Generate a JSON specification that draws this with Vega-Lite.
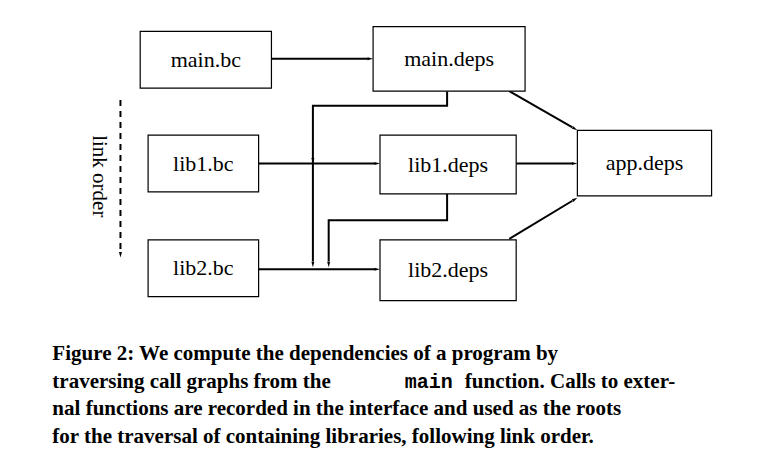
{
  "$schema": "https://vega.github.io/schema/vega-lite/v6.json",
  "autosize": {"type": "fit", "contains": "padding"},
  "width": 760,
  "height": 470,
  "background": "white",
  "config": {"view": {"stroke": null}},
  "encoding": {
    "x": {"field": "x", "type": "quantitative", "scale": {"domain": [0, 760], "nice": false, "zero": false}, "axis": null},
    "y": {"field": "y", "type": "quantitative", "scale": {"domain": [0, 470], "nice": false, "zero": false, "reverse": true}, "axis": null}
  },
  "layer": [
    {
      "data": {"values": [
        {"p": 1, "o": 1, "x": 270, "y": 55}, {"p": 1, "o": 2, "x": 368, "y": 55},
        {"p": 2, "o": 1, "x": 511, "y": 88}, {"p": 2, "o": 2, "x": 575, "y": 125},
        {"p": 3, "o": 1, "x": 518, "y": 162}, {"p": 3, "o": 2, "x": 575, "y": 162},
        {"p": 4, "o": 1, "x": 511, "y": 239}, {"p": 4, "o": 2, "x": 575, "y": 200},
        {"p": 5, "o": 1, "x": 257, "y": 162}, {"p": 5, "o": 2, "x": 375, "y": 162},
        {"p": 6, "o": 1, "x": 257, "y": 270}, {"p": 6, "o": 2, "x": 375, "y": 270},
        {"p": 7, "o": 1, "x": 448, "y": 88}, {"p": 7, "o": 2, "x": 448, "y": 103},
        {"p": 7, "o": 3, "x": 312, "y": 103}, {"p": 7, "o": 4, "x": 312, "y": 262},
        {"p": 8, "o": 1, "x": 448, "y": 193}, {"p": 8, "o": 2, "x": 448, "y": 220},
        {"p": 8, "o": 3, "x": 328, "y": 220}, {"p": 8, "o": 4, "x": 328, "y": 262}
      ]},
      "mark": {"type": "line", "color": "black", "strokeWidth": 2},
      "encoding": {"detail": {"field": "p"}, "order": {"field": "o"}}
    },
    {
      "data": {"values": [{"p": 9, "o": 1, "x": 117, "y": 97}, {"p": 9, "o": 2, "x": 117, "y": 252}]},
      "mark": {"type": "line", "color": "black", "strokeWidth": 2, "strokeDash": [6, 5]},
      "encoding": {"order": {"field": "o"}}
    },
    {
      "data": {"values": [
        {"x": 137, "x2": 270, "y": 27, "y2": 85, "t": "main.bc"},
        {"x": 373, "x2": 527, "y": 22, "y2": 88, "t": "main.deps"},
        {"x": 145, "x2": 257, "y": 133, "y2": 191, "t": "lib1.bc"},
        {"x": 380, "x2": 518, "y": 133, "y2": 193, "t": "lib1.deps"},
        {"x": 580, "x2": 716, "y": 128, "y2": 195, "t": "app.deps"},
        {"x": 145, "x2": 257, "y": 240, "y2": 298, "t": "lib2.bc"},
        {"x": 380, "x2": 518, "y": 240, "y2": 302, "t": "lib2.deps"}
      ]},
      "transform": [
        {"calculate": "(datum.x + datum.x2) / 2", "as": "cx"},
        {"calculate": "(datum.y + datum.y2) / 2", "as": "cy"}
      ],
      "layer": [
        {
          "mark": {"type": "rect", "fill": "white", "stroke": "black", "strokeWidth": 1.2},
          "encoding": {"x2": {"field": "x2"}, "y2": {"field": "y2"}}
        },
        {
          "mark": {"type": "text", "font": "Liberation Serif", "fontSize": 22, "color": "black"},
          "encoding": {
            "x": {"field": "cx", "type": "quantitative"},
            "y": {"field": "cy", "type": "quantitative"},
            "text": {"field": "t"}
          }
        }
      ]
    },
    {
      "data": {"values": [
        {"x": 373, "y": 55, "a": 90}, {"x": 580, "y": 128, "a": 120},
        {"x": 580, "y": 162, "a": 90}, {"x": 580, "y": 197, "a": 59},
        {"x": 380, "y": 162, "a": 90}, {"x": 380, "y": 270, "a": 90},
        {"x": 312, "y": 162, "a": 180}, {"x": 312, "y": 268, "a": 180},
        {"x": 328, "y": 268, "a": 180}, {"x": 117, "y": 258, "a": 180}
      ]},
      "mark": {"type": "point", "shape": "M0,0L-0.55,2L0.55,2Z", "filled": true, "color": "black", "opacity": 1, "size": 30},
      "encoding": {"angle": {"field": "a", "type": "quantitative", "scale": null}}
    },
    {
      "data": {"values": [{"x": 95, "y": 175, "t": "link order"}]},
      "mark": {"type": "text", "font": "Liberation Serif", "fontSize": 21, "angle": 90, "color": "black"},
      "encoding": {"text": {"field": "t"}}
    },
    {
      "data": {"values": [
        {"x": 48, "y": 357, "t": "Figure 2:  We compute the dependencies of a program by"},
        {"x": 48, "y": 385, "t": "traversing call graphs from the"},
        {"x": 466, "y": 385, "t": "function.  Calls to exter-"},
        {"x": 48, "y": 413, "t": "nal functions are recorded in the interface and used as the roots"},
        {"x": 48, "y": 441, "t": "for the traversal of containing libraries, following link order."}
      ]},
      "mark": {"type": "text", "align": "left", "baseline": "middle", "font": "Liberation Serif", "fontSize": 21, "fontWeight": "bold", "color": "black"},
      "encoding": {"text": {"field": "t"}}
    },
    {
      "data": {"values": [{"x": 405, "y": 385, "t": "main"}]},
      "mark": {"type": "text", "align": "left", "baseline": "middle", "font": "Liberation Mono", "fontSize": 20, "fontWeight": "bold", "color": "black"},
      "encoding": {"text": {"field": "t"}}
    }
  ]
}
